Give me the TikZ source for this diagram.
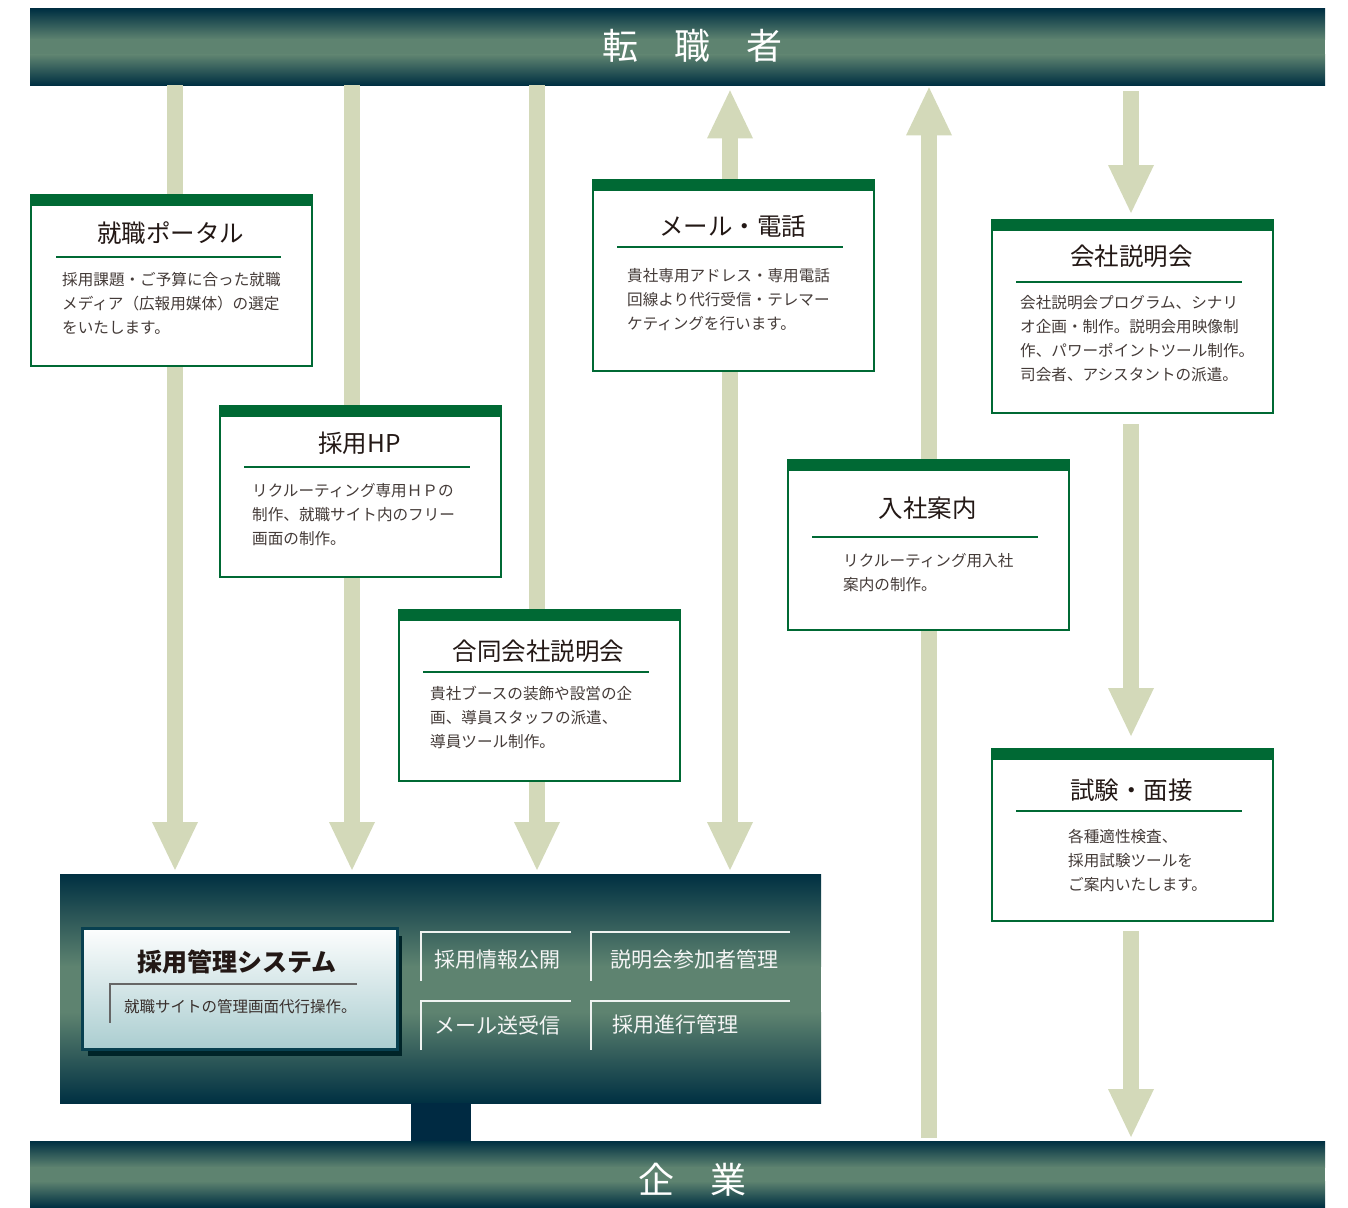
\documentclass[tikz,border=0pt]{standalone}
\usepackage{fontspec}
\setmainfont{Noto Sans CJK JP}
\usetikzlibrary{arrows.meta}

\definecolor{flowgreen}{RGB}{211,217,185}
\definecolor{cardgreen}{RGB}{0,105,52}
\definecolor{deepteal}{RGB}{0,48,66}
\definecolor{midgreen}{RGB}{94,131,112}
\definecolor{inktext}{RGB}{35,24,21}
\definecolor{plinth}{RGB}{0,42,66}
\definecolor{shadowteal}{RGB}{0,36,40}
\definecolor{frameteal}{RGB}{8,64,80}
\definecolor{paleteal}{RGB}{170,205,208}

\tikzset{
  flow/.style={line width=16pt, draw=flowgreen, shorten >=4pt,
    -{Triangle[length=48pt,width=46pt,line width=0pt]}},
  flowboth/.style={flow, shorten <=5pt,
    {Triangle[length=48pt,width=46pt,line width=0pt]}-{Triangle[length=48pt,width=46pt,line width=0pt]}},
  fadein/.style={top color=deepteal, bottom color=midgreen},
  fadeout/.style={top color=midgreen, bottom color=deepteal},
  card/.style={draw=cardgreen, line width=2pt, fill=white, minimum width=281pt,
    inner sep=0pt, anchor=north west},
  cardbar/.style={fill=cardgreen},
  cardtitle/.style={text=inktext, font=\fontsize{24.5}{28}\selectfont, inner sep=0pt},
  cardrule/.style={draw=cardgreen, line width=2.5pt},
  cardbody/.style={text=inktext!85, font=\fontsize{15.6}{24}\selectfont, align=left,
    anchor=north west, inner sep=0pt},
  band/.style={minimum width=1295pt, anchor=north west, inner sep=0pt},
  bandtext/.style={text=white, font=\fontsize{36}{40}\selectfont, inner sep=0pt},
  sysbox/.style={draw=frameteal, line width=3pt, top color=white!97!paleteal,
    bottom color=paleteal, minimum width=315pt, minimum height=121pt,
    inner sep=0pt, anchor=north west},
  systitle/.style={text=inktext, font=\fontsize{25}{28}\selectfont\bfseries, inner sep=0pt},
  sysrule/.style={draw=black!60, line width=1.5pt},
  sysbody/.style={text=inktext!90, font=\fontsize{15.5}{20}\selectfont, anchor=west, inner sep=0pt},
  item/.style={text=white!92!gray, font=\fontsize{21}{24}\selectfont, anchor=west, inner sep=0pt},
  itemframe/.style={draw=white!90!midgreen, line width=1.5pt},
}

\begin{document}
\begin{tikzpicture}[x=1pt,y=-1pt]
  \useasboundingbox (0,0) rectangle (1348,1207);

  % banners
  \shade[fadein] (30,9) rectangle (1325,39.5);
  \fill[midgreen] (30,39) rectangle (1325,55.5);
  \shade[fadeout] (30,55) rectangle (1325,85);
  \node[band, minimum height=76pt] (seeker) at (30,9) {};
  \node[bandtext] (seeker-t) at (692,46) {転　職　者};

  \shade[fadein] (30,1141) rectangle (1325,1167.5);
  \fill[midgreen] (30,1167) rectangle (1325,1181.5);
  \shade[fadeout] (30,1181) rectangle (1325,1207);
  \node[band, minimum height=66pt] (firm) at (30,1141) {};
  \node[bandtext] (firm-t) at (692,1180) {企　業};

  % management panel
  \shade[fadein] (60,874) rectangle (821,966.5);
  \fill[midgreen] (60,966) rectangle (821,1012.5);
  \shade[fadeout] (60,1012) rectangle (821,1103);
  \node[minimum width=761pt, minimum height=229pt, inner sep=0pt,
    anchor=north west] (panel) at (60,874) {};
  \fill[plinth] (411,1103) rectangle (471,1141);
  \fill[shadowteal] (88,936) rectangle (402,1056);
  \node[sysbox] (system) at (81,927) {};
  \node[systitle] (system-t) at (237,962) {採用管理システム};
  \draw[sysrule] (357,984) -- (110,984) -- (110,1023);
  \node[sysbody] (system-b) at (124,1007) {就職サイトの管理画面代行操作。};

  \draw[itemframe] (571,932) -- (421,932) -- (421,981);
  \node[item] (publish) at (434,960) {採用情報公開};
  \draw[itemframe] (790,932) -- (591,932) -- (591,981);
  \node[item] (attend) at (610,960) {説明会参加者管理};
  \draw[itemframe] (571,1001) -- (421,1001) -- (421,1050);
  \node[item] (mailing) at (434,1025) {メール送受信};
  \draw[itemframe] (790,1001) -- (591,1001) -- (591,1050);
  \node[item] (progress) at (612,1025) {採用進行管理};

  % arrows
  \coordinate (c1) at (175,0);
  \coordinate (c2) at (352,0);
  \coordinate (c3) at (537,0);
  \coordinate (c4) at (730,0);
  \coordinate (c5) at (929,0);
  \coordinate (c6) at (1131,0);
  \draw[flow] (seeker.south -| c1) -- (panel.north -| c1);
  \draw[flow] (seeker.south -| c2) -- (panel.north -| c2);
  \draw[flow] (seeker.south -| c3) -- (panel.north -| c3);
  \draw[flowboth] (seeker.south -| c4) -- (panel.north -| c4);
  \draw[flow, shorten <=3pt, shorten >=2pt] (firm.north -| c5) -- (seeker.south -| c5);

  % cards
  \node[card, minimum height=171pt] (portal) at (30,194) {};
  \fill[cardbar] (portal.north west) rectangle ++(281,12);
  \node[cardtitle] (portal-t) at (170.5,233) {就職ポータル};
  \draw[cardrule] (56,257) -- (281,257);
  \node[cardbody] (portal-b) at (62,272) {採用課題・ご予算に合った就職\\メディア（広報用媒体）の選定\\をいたします。};

  \node[card, minimum height=171pt] (hp) at (219,405) {};
  \fill[cardbar] (hp.north west) rectangle ++(281,12);
  \node[cardtitle] (hp-t) at (359.5,443) {採用HP};
  \draw[cardrule] (244,467) -- (470,467);
  \node[cardbody] (hp-b) at (252,483) {リクルーティング専用ＨＰの\\制作、就職サイト内のフリー\\画面の制作。};

  \node[card, minimum height=171pt] (fair) at (398,609) {};
  \fill[cardbar] (fair.north west) rectangle ++(281,12);
  \node[cardtitle] (fair-t) at (538.5,651) {合同会社説明会};
  \draw[cardrule] (423,672) -- (649,672);
  \node[cardbody] (fair-b) at (430,686) {貴社ブースの装飾や設営の企\\画、導員スタッフの派遣、\\導員ツール制作。};

  \node[card, minimum height=191pt] (contact) at (592,179) {};
  \fill[cardbar] (contact.north west) rectangle ++(281,12);
  \node[cardtitle] (contact-t) at (732.5,226) {メール・電話};
  \draw[cardrule] (617,247) -- (843,247);
  \node[cardbody] (contact-b) at (627,268) {貴社専用アドレス・専用電話\\回線より代行受信・テレマー\\ケティングを行います。};

  \node[card, minimum height=170pt] (guide) at (787,459) {};
  \fill[cardbar] (guide.north west) rectangle ++(281,12);
  \node[cardtitle] (guide-t) at (927.5,508) {入社案内};
  \draw[cardrule] (812,537) -- (1038,537);
  \node[cardbody] (guide-b) at (843,553) {リクルーティング用入社\\案内の制作。};

  \node[card, minimum height=193pt] (briefing) at (991,219) {};
  \fill[cardbar] (briefing.north west) rectangle ++(281,12);
  \node[cardtitle] (briefing-t) at (1131.5,256) {会社説明会};
  \draw[cardrule] (1016,282) -- (1242,282);
  \node[cardbody] (briefing-b) at (1020,295) {会社説明会プログラム、シナリ\\オ企画・制作。説明会用映像制\\作、パワーポイントツール制作。\\司会者、アシスタントの派遣。};

  \node[card, minimum height=172pt] (exam) at (991,748) {};
  \fill[cardbar] (exam.north west) rectangle ++(281,12);
  \node[cardtitle] (exam-t) at (1131.5,790) {試験・面接};
  \draw[cardrule] (1016,811) -- (1242,811);
  \node[cardbody] (exam-b) at (1068,829) {各種適性検査、\\採用試験ツールを\\ご案内いたします。};

  % right-hand chain
  \draw[flow, shorten <=6pt, shorten >=6pt] (seeker.south -| c6) -- (briefing.north -| c6);
  \draw[flow, shorten <=10pt, shorten >=12pt] (briefing.south -| c6) -- (exam.north -| c6);
  \draw[flow, shorten <=9pt, shorten >=4pt] (exam.south -| c6) -- (firm.north -| c6);
\end{tikzpicture}
\end{document}
